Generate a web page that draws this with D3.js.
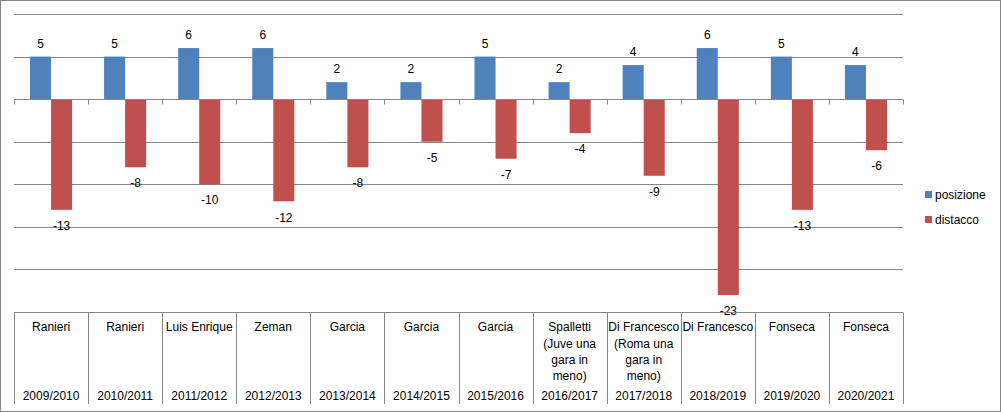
<!DOCTYPE html>
<html>
<head>
<meta charset="utf-8">
<script src="https://cdn.jsdelivr.net/npm/d3@7"></script>
<style>
  body { margin: 0; background: #fff; }
  text { font-family: "Liberation Sans", Arial, sans-serif; font-size: 12px; fill: #000; }
</style>
</head>
<body>
<svg id="chart" width="1001" height="412"></svg>
<script>
// Data
const seasons = ["2009/2010", "2010/2011", "2011/2012", "2012/2013", "2013/2014", "2014/2015",
                 "2015/2016", "2016/2017", "2017/2018", "2018/2019", "2019/2020", "2020/2021"];
const coaches = [
    ["Ranieri"], ["Ranieri"], ["Luis Enrique"], ["Zeman"], ["Garcia"], ["Garcia"], ["Garcia"],
    ["Spalletti", "(Juve una", "gara in", "meno)"],
    ["Di Francesco", "(Roma una", "gara in", "meno)"],
    ["Di Francesco"], ["Fonseca"], ["Fonseca"]
];
const posizione = [5, 5, 6, 6, 2, 2, 5, 2, 4, 6, 5, 4];
const distacco = [-13, -8, -10, -12, -8, -5, -7, -4, -9, -23, -13, -6];
const seriesNames = ["posizione", "distacco"];
const yTicks = [10, 5, -5, -10, -15, -20];

const colors = { posizione: "#4F81BD", distacco: "#C0504D" };
const gridColor = "#868686";

const svg = d3.select("#chart");

// outer chart border
svg.append("rect")
    .attr("x", 0.5).attr("y", 0.5)
    .attr("width", 1000).attr("height", 411)
    .attr("fill", "#fff")
    .attr("stroke", gridColor);

const plot = { left: 14, right: 903, top: 14, bottom: 312 };

const x0 = d3.scaleBand()
    .domain(seasons)
    .range([plot.left, plot.right]);

const x1 = d3.scaleBand()
    .domain(seriesNames)
    .range([0, x0.bandwidth()])
    .paddingOuter(0.76);

const y = d3.scaleLinear()
    .domain([-25, 10])
    .range([plot.bottom, plot.top]);

// gridlines
svg.append("g")
    .selectAll("line")
    .data(yTicks)
    .enter()
    .append("line")
    .attr("x1", plot.left).attr("x2", plot.right)
    .attr("y1", d => Math.round(y(d)) + 0.5)
    .attr("y2", d => Math.round(y(d)) + 0.5)
    .attr("stroke", gridColor);

// rows of data
const rows = seasons.map((s, i) => ({
    season: s,
    values: [
        { key: "posizione", value: posizione[i] },
        { key: "distacco", value: distacco[i] }
    ]
}));

const groups = svg.append("g")
    .selectAll("g")
    .data(rows)
    .enter()
    .append("g")
    .attr("transform", d => `translate(${x0(d.season)},0)`);

groups.selectAll("rect")
    .data(d => d.values)
    .enter()
    .append("rect")
    .attr("x", d => x1(d.key))
    .attr("width", x1.bandwidth())
    .attr("y", d => y(Math.max(0, d.value)))
    .attr("height", d => Math.abs(y(d.value) - y(0)))
    .attr("fill", d => colors[d.key]);

// value labels
groups.selectAll("text")
    .data(d => d.values)
    .enter()
    .append("text")
    .attr("text-anchor", "middle")
    .attr("x", d => x1(d.key) + x1.bandwidth() / 2)
    .attr("y", d => d.value >= 0 ? y(d.value) - 13 : y(d.value) + 16)
    .attr("dy", "0.35em")
    .text(d => d.value);

// zero axis with tick marks
const zeroY = Math.round(y(0)) + 0.5;
svg.append("line")
    .attr("x1", plot.left).attr("x2", plot.right)
    .attr("y1", zeroY).attr("y2", zeroY)
    .attr("stroke", gridColor);

const boundaries = seasons.map(s => x0(s)).concat([plot.right]);
svg.append("g")
    .selectAll("line")
    .data(boundaries)
    .enter()
    .append("line")
    .attr("x1", d => Math.round(d) + 0.5).attr("x2", d => Math.round(d) + 0.5)
    .attr("y1", zeroY).attr("y2", zeroY + 5)
    .attr("stroke", gridColor);

// category table under the plot
const tableTop = Math.round(y(-25)) + 0.5;
const tableBottom = 404;
svg.append("line")
    .attr("x1", plot.left).attr("x2", plot.right)
    .attr("y1", tableTop).attr("y2", tableTop)
    .attr("stroke", gridColor);

svg.append("g")
    .selectAll("line")
    .data(boundaries)
    .enter()
    .append("line")
    .attr("x1", d => Math.round(d) + 0.5).attr("x2", d => Math.round(d) + 0.5)
    .attr("y1", tableTop).attr("y2", tableBottom)
    .attr("stroke", gridColor);

const cells = svg.append("g")
    .selectAll("g")
    .data(seasons)
    .enter()
    .append("g")
    .attr("transform", d => `translate(${x0(d) + x0.bandwidth() / 2},0)`);

cells.each(function(d, i) {
    const cell = d3.select(this);
    coaches[i].forEach((line, j) => {
        cell.append("text")
            .attr("text-anchor", "middle")
            .attr("y", 327 + j * 16.4)
            .attr("dy", "0.35em")
            .text(line);
    });
    cell.append("text")
        .attr("text-anchor", "middle")
        .attr("y", 396)
        .attr("dy", "0.35em")
        .text(d);
});

// legend
const legend = svg.append("g")
    .selectAll("g")
    .data(seriesNames)
    .enter()
    .append("g")
    .attr("transform", (d, i) => `translate(925,${191 + i * 25})`);

legend.append("rect")
    .attr("width", 7).attr("height", 7)
    .attr("fill", d => colors[d]);

legend.append("text")
    .attr("x", 10)
    .attr("y", 3.5)
    .attr("dy", "0.35em")
    .text(d => d);
</script>
</body>
</html>
